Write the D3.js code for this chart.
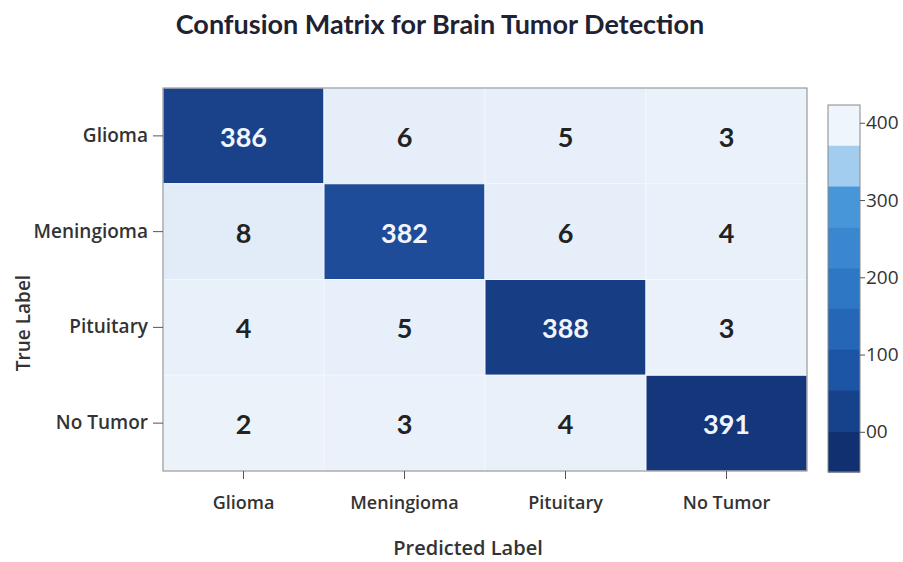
<!DOCTYPE html>
<html>
<head>
<meta charset="utf-8">
<script src="https://cdn.jsdelivr.net/npm/d3@7"></script>
<style>
  body { margin: 0; background: #fff; }
  text { font-family: Lato, "Open Sans", sans-serif; }
</style>
</head>
<body>
<div id="chart"></div>
<script>
'use strict';

var width = 903, height = 562;

// data
var predicted = ['Glioma', 'Meningioma', 'Pituitary', 'No Tumor'];
var actual = ['Glioma', 'Meningioma', 'Pituitary', 'No Tumor'];
var counts = [
  [386, 6, 5, 3],
  [8, 382, 6, 4],
  [4, 5, 388, 3],
  [2, 3, 4, 391]
];
var barTicks = [0, 100, 200, 300, 400];
var barTickLabels = ['00', '100', '200', '300', '400'];

var plot = { left: 163, right: 807, top: 88, bottom: 471 };
var bar = { left: 828, width: 32, top: 105, bottom: 472 };
var labelFont = '"Open Sans", sans-serif';

var svg = d3.select('#chart')
            .append('svg')
            .attr('width', width)
            .attr('height', height);

var x = d3.scaleBand().domain(predicted).range([plot.left, plot.right]);
var y = d3.scaleBand().domain(actual).range([plot.top, plot.bottom]);

var cellColor = d3.scaleLinear()
                  .domain([0, 10, 380, 395])
                  .range(['#eef4fb', '#dfeaf8', '#2151a0', '#0f2c6c'])
                  .clamp(true);

var cells = [];
counts.forEach(function(row, i) {
  row.forEach(function(v, j) {
    cells.push({ row: actual[i], col: predicted[j], value: v });
  });
});

// Cells

svg.append('g')
   .selectAll('rect')
   .data(cells)
   .enter()
   .append('rect')
   .attr('x', function(d) { return x(d.col); })
   .attr('y', function(d) { return y(d.row); })
   .attr('width', x.bandwidth())
   .attr('height', y.bandwidth())
   .attr('fill', function(d) { return cellColor(d.value); })
   .attr('stroke', '#f4f7fc')
   .attr('stroke-width', 1);

svg.append('g')
   .selectAll('text')
   .data(cells)
   .enter()
   .append('text')
   .attr('x', function(d) { return x(d.col) + x.bandwidth() / 2; })
   .attr('y', function(d) { return y(d.row) + y.bandwidth() / 2 + 4; })
   .attr('text-anchor', 'middle')
   .attr('dominant-baseline', 'middle')
   .attr('font-size', 27)
   .attr('font-weight', 'bold')
   .attr('fill', function(d) { return d.value > 100 ? '#f2f6fc' : '#222'; })
   .text(function(d) { return d.value; });

svg.append('rect')
   .attr('x', plot.left)
   .attr('y', plot.top)
   .attr('width', plot.right - plot.left)
   .attr('height', plot.bottom - plot.top)
   .attr('fill', 'none')
   .attr('stroke', '#888');

// Axes

var xAxis = svg.append('g')
               .attr('transform', 'translate(0,' + plot.bottom + ')')
               .call(d3.axisBottom(x).tickSize(8).tickPadding(17));
var yAxis = svg.append('g')
               .attr('transform', 'translate(' + plot.left + ',0)')
               .call(d3.axisLeft(y).tickSize(10).tickPadding(5));

xAxis.selectAll('text').attr('font-size', 18);
yAxis.selectAll('text').attr('font-size', 19);

[xAxis, yAxis].forEach(function(a) {
  a.select('.domain').remove();
  a.selectAll('line').attr('stroke', '#555');
  a.selectAll('text')
   .attr('font-weight', 600)
   .attr('fill', '#333')
   .style('font-family', labelFont);
});

svg.append('text')
   .attr('x', 468)
   .attr('y', 555)
   .attr('text-anchor', 'middle')
   .attr('font-size', 20)
   .attr('font-weight', 600)
   .attr('fill', '#333')
   .style('font-family', labelFont)
   .text('Predicted Label');

svg.append('text')
   .attr('transform', 'translate(30,323) rotate(-90)')
   .attr('text-anchor', 'middle')
   .attr('font-size', 19)
   .attr('font-weight', 600)
   .attr('fill', '#333')
   .style('font-family', labelFont)
   .text('True Label');

// Title

svg.append('text')
   .attr('x', 440)
   .attr('y', 34)
   .attr('text-anchor', 'middle')
   .attr('font-size', 27)
   .attr('font-weight', 'bold')
   .attr('fill', '#1e2233')
   .text('Confusion Matrix for Brain Tumor Detection');

// Colour bar

var barScale = d3.scaleLinear()
                 .domain([-52, 423])
                 .range([bar.bottom, bar.top]);

var steps = d3.range(9);
var stepH = (bar.bottom - bar.top) / steps.length;
var stepColor = d3.scaleLinear()
                  .domain([0, 1, 2, 4, 6, 8])
                  .range(['#eef5fc', '#a3cdee', '#4796d9', '#2d77c5', '#1c54a6', '#10306f']);

svg.append('g')
   .selectAll('rect')
   .data(steps)
   .enter()
   .append('rect')
   .attr('x', bar.left)
   .attr('y', function(d) { return bar.top + d * stepH; })
   .attr('width', bar.width)
   .attr('height', stepH + 0.5)
   .attr('fill', function(d) { return stepColor(d); });

svg.append('rect')
   .attr('x', bar.left)
   .attr('y', bar.top)
   .attr('width', bar.width)
   .attr('height', bar.bottom - bar.top)
   .attr('fill', 'none')
   .attr('stroke', '#888');

var barAxis = svg.append('g')
                 .attr('transform', 'translate(' + (bar.left + bar.width) + ',0)')
                 .call(d3.axisRight(barScale)
                         .tickValues(barTicks)
                         .tickSize(5)
                         .tickPadding(1)
                         .tickFormat(function(d, i) { return barTickLabels[i]; }));

barAxis.select('.domain').remove();
barAxis.selectAll('line').attr('stroke', '#555');
barAxis.selectAll('text')
       .attr('font-size', 19)
       .attr('fill', '#333')
       .style('font-family', labelFont);
</script>
</body>
</html>
